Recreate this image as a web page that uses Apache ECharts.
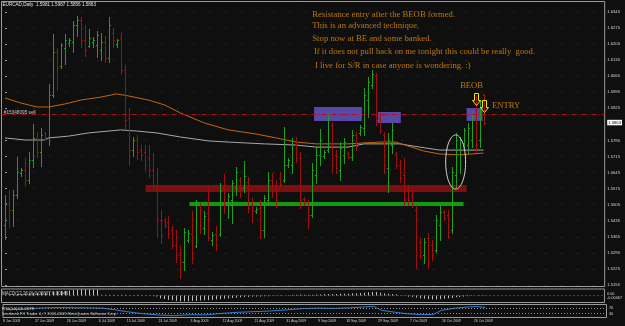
<!DOCTYPE html>
<html><head><meta charset="utf-8">
<script src="https://cdn.jsdelivr.net/npm/echarts/dist/echarts.min.js"></script>
<style>html,body{margin:0;padding:0;background:#0f0f0f}#c{width:625px;height:326px}</style>
</head><body><div id="c"></div>
<script>
// ---------- data ----------
const symbolName = 'EURCAD,Daily';
const open  = [1.5416,1.5512,1.5482,1.5547,1.5643,1.5656,1.5613,1.5700,1.5796,1.5735,1.5818,1.5800,1.5983,1.6171,1.6109,1.6188,1.6210,1.6214,1.6288,1.6310,1.6223,1.6197,1.6214,1.6201,1.6179,1.6214,1.6144,1.6253,1.6205,1.6231,1.6092,1.5883,1.5743,1.5787,1.5743,1.5735,1.5708,1.5656,1.5591,1.5438,1.5438,1.5429,1.5395,1.5329,1.5286,1.5255,1.5351,1.5377,1.5325,1.5499,1.5403,1.5469,1.5351,1.5377,1.5377,1.5578,1.5504,1.5525,1.5582,1.5613,1.5578,1.5604,1.5504,1.5477,1.5490,1.5395,1.5525,1.5613,1.5588,1.5621,1.5613,1.5678,1.5678,1.5765,1.5708,1.5530,1.5517,1.5460,1.5634,1.5722,1.5717,1.5743,1.5852,1.5722,1.5656,1.5722,1.5730,1.5713,1.5809,1.5818,1.5839,1.5961,1.6027,1.6066,1.5883,1.5809,1.5665,1.5765,1.5726,1.5678,1.5634,1.5569,1.5547,1.5482,1.5342,1.5286,1.5360,1.5329,1.5307,1.5416,1.5473,1.5460,1.5395,1.5634,1.5743,1.5774,1.5765,1.5787,1.5918,1.5787,1.5981];
const high  = [1.5547,1.5569,1.5569,1.5713,1.5665,1.5708,1.5735,1.5857,1.5822,1.5839,1.5822,1.6031,1.6249,1.6188,1.6210,1.6249,1.6231,1.6306,1.6328,1.6323,1.6288,1.6271,1.6236,1.6262,1.6253,1.6240,1.6323,1.6275,1.6227,1.6258,1.6114,1.5926,1.5800,1.5809,1.5765,1.5765,1.5765,1.5730,1.5665,1.5482,1.5447,1.5456,1.5412,1.5395,1.5325,1.5403,1.5395,1.5477,1.5525,1.5512,1.5477,1.5588,1.5386,1.5412,1.5599,1.5639,1.5556,1.5613,1.5669,1.5626,1.5695,1.5626,1.5538,1.5495,1.5525,1.5547,1.5647,1.5643,1.5613,1.5647,1.5844,1.5708,1.5796,1.5800,1.5735,1.5538,1.5525,1.5687,1.5756,1.5835,1.5743,1.5905,1.5865,1.5743,1.5778,1.5796,1.5735,1.5831,1.5822,1.5852,1.6014,1.6062,1.6092,1.6079,1.5905,1.5822,1.5818,1.5861,1.5735,1.5700,1.5708,1.5591,1.5569,1.5504,1.5360,1.5360,1.5381,1.5351,1.5460,1.5504,1.5482,1.5482,1.5669,1.5818,1.5800,1.5839,1.5861,1.5905,1.5983,1.5961,1.5987];
const low   = [1.5355,1.5408,1.5412,1.5534,1.5630,1.5591,1.5599,1.5669,1.5713,1.5674,1.5791,1.5765,1.5975,1.6005,1.6101,1.6118,1.6197,1.6171,1.6240,1.6192,1.6153,1.6192,1.6192,1.6149,1.6136,1.6127,1.6127,1.6192,1.6192,1.6075,1.5839,1.5678,1.5717,1.5704,1.5700,1.5656,1.5626,1.5578,1.5364,1.5338,1.5408,1.5360,1.5316,1.5255,1.5185,1.5220,1.5342,1.5251,1.5320,1.5381,1.5377,1.5351,1.5329,1.5307,1.5368,1.5469,1.5447,1.5425,1.5547,1.5538,1.5560,1.5473,1.5429,1.5469,1.5360,1.5364,1.5508,1.5538,1.5495,1.5582,1.5604,1.5669,1.5643,1.5691,1.5490,1.5504,1.5399,1.5451,1.5599,1.5678,1.5708,1.5735,1.5643,1.5643,1.5613,1.5687,1.5708,1.5700,1.5743,1.5809,1.5809,1.5887,1.6014,1.5852,1.5818,1.5643,1.5560,1.5730,1.5665,1.5604,1.5504,1.5504,1.5495,1.5229,1.5272,1.5251,1.5229,1.5264,1.5299,1.5351,1.5438,1.5360,1.5381,1.5582,1.5643,1.5756,1.5730,1.5756,1.5735,1.5756,1.5856];
const close = [1.5512,1.5482,1.5547,1.5647,1.5656,1.5613,1.5700,1.5796,1.5735,1.5809,1.5800,1.5983,1.6171,1.6101,1.6201,1.6223,1.6223,1.6288,1.6310,1.6223,1.6179,1.6231,1.6223,1.6245,1.6214,1.6144,1.6288,1.6223,1.6223,1.6092,1.5874,1.5743,1.5787,1.5735,1.5722,1.5678,1.5656,1.5591,1.5438,1.5373,1.5416,1.5381,1.5329,1.5286,1.5255,1.5386,1.5381,1.5272,1.5504,1.5416,1.5456,1.5360,1.5373,1.5329,1.5569,1.5504,1.5543,1.5599,1.5647,1.5569,1.5630,1.5490,1.5482,1.5486,1.5395,1.5534,1.5613,1.5569,1.5525,1.5595,1.5678,1.5700,1.5765,1.5708,1.5525,1.5512,1.5460,1.5656,1.5722,1.5787,1.5735,1.5883,1.5678,1.5665,1.5752,1.5778,1.5713,1.5809,1.5761,1.5844,1.5983,1.6040,1.6075,1.5874,1.5831,1.5678,1.5787,1.5831,1.5678,1.5621,1.5525,1.5525,1.5508,1.5286,1.5299,1.5342,1.5255,1.5286,1.5438,1.5473,1.5447,1.5386,1.5647,1.5787,1.5787,1.5831,1.5839,1.5896,1.5765,1.5957,1.5863];

// moving averages: [bar index, price]
const maOrange = [[0,1.5970],[4,1.5948],[8,1.5931],[11,1.5931],[15,1.5944],[19,1.5961],[24,1.5974],[28,1.5988],[31,1.5979],[36,1.5961],[40,1.5940],[44,1.5905],[50,1.5861],[56,1.5831],[63,1.5813],[68,1.5796],[73,1.5778],[78,1.5770],[86,1.5770],[90,1.5774],[94,1.5778],[98,1.5778],[101,1.5761],[105,1.5739],[109,1.5726],[114,1.5722],[120,1.5730]];
const maGrey = [[0,1.5796],[5,1.5787],[10,1.5787],[11,1.5796],[16,1.5804],[21,1.5818],[26,1.5826],[29,1.5831],[33,1.5826],[38,1.5818],[44,1.5800],[51,1.5783],[56,1.5778],[65,1.5770],[73,1.5765],[78,1.5756],[86,1.5756],[90,1.5770],[94,1.5770],[99,1.5770],[104,1.5756],[109,1.5743],[120,1.5743]];

// MACD histogram (one value per bar)
const macd = [0.002,0.002,0.003,0.004,0.004,0.005,0.006,0.007,0.007,0.008,0.008,0.009,0.010,0.011,0.012,0.013,0.014,
  0.015,0.016,0.017,0.017,0.017,0.016,0.016,
  0.002,0.002,0.002,0.002,0.001,0.002,0.002,0.001,0.001,0.002,0.001,
  0.001,-0.001,-0.002,-0.003,
  -0.008,-0.010,-0.012,-0.013,-0.015,-0.016,-0.016,-0.016,-0.015,-0.015,-0.014,-0.013,-0.013,-0.012,-0.011,-0.010,-0.009,-0.008,-0.007,-0.006,
  -0.005,-0.004,-0.004,-0.003,-0.003,-0.003,-0.002,-0.002,-0.001,-0.001,-0.001,0.000,
  0.001,0.002,0.002,0.003,0.002,0.002,0.002,0.003,0.003,0.004,0.004,0.004,0.004,0.005,0.005,0.005,
  0.006,0.006,0.007,0.008,0.009,0.010,0.010,
  0.008,0.006,0.005,0.004,0.003,0.001,-0.001,
  -0.003,-0.004,-0.006,-0.008,-0.009,-0.010,-0.011,-0.011,-0.010,-0.009,-0.008,-0.007,
  -0.005,-0.004,-0.003,-0.002,-0.001,0.000,0.001,0.001];
const macdLabel = 'MACD(12,26,9) 0.00607 0.00946';
const macdTicks = [0.01813, 0, -0.00067];

// RSI: [bar index, value]
const rsi = [[0,60],[4,64],[8,72],[12,76],[16,75],[20,74],[24,72],[27,60],[30,45],[34,30],[38,20],[42,14],[46,22],[50,20],[54,32],[58,40],[62,45],[66,50],[70,58],[74,68],[78,72],[82,70],[86,74],[90,82],[92,86],[94,55],[97,42],[100,30],[104,22],[107,24],[109,55],[112,70],[115,80],[118,84],[120,78]];
const rsiLabel = 'RSI(14) 65.2078';
const rsiLevels = [70, 30];

const dateLabels = ['8 Jun 2009','17 Jun 2009','26 Jun 2009','6 Jul 2009','15 Jul 2009','24 Jul 2009','3 Aug 2009','12 Aug 2009','21 Aug 2009','31 Aug 2009','9 Sep 2009','18 Sep 2009','29 Sep 2009','7 Oct 2009','16 Oct 2009','26 Oct 2009'];
const dateIdx = [0,8,16,24,31,39,47,55,63,71,79,86,94,102,110,118];
const priceTicks = [1.5155,1.5225,1.5295,1.5365,1.5435,1.5505,1.5575,1.5645,1.5715,1.5785,1.5925,1.5995,1.6065,1.6135,1.6205,1.6275,1.6345];

// annotations (data coordinates: bar index, price)
const orderLevel = 1.5895;
const orderText = '#15348095 sell';
const blueBoxes = [[77.5,1.5931,89.5,1.5870],[93.5,1.5909,99.25,1.5861],[115.75,1.5926,119.75,1.5870]];
const redBand = [35.25,1.5591,115.75,1.5560];
const greenBand = [46.25,1.5517,115,1.5499];
const noteTexts = ['Resistance entry after the BEOB formed.','This is an advanced technique.','Stop now at BE and some banked.','If it does not pull back on me tonight this could be really  good.','I live for S/R in case anyone is wondering. :)'];
const noteIdx = [76.93,76.93,76.93,77.33,77.58];
const notePrice = [1.63319,1.62839,1.62273,1.61719,1.61126];
const tagTexts = ['BEOB','ENTRY'];
const tagIdx = [114,122];
const tagPrice = [1.60223,1.59373];
const arrowIdx = [118,120];
const arrowPrice = [1.59395,1.59103];
const ellipseSpec = [113,1.5691,2.5,0.0118];

// ---------- chart ----------
const BULL = '#1f9f1f', BEAR = '#a01010';
const FONT = 'Liberation Sans';
const xMin = -0.875, xMax = 150.375;
const lastClose = close[close.length-1];
const chart = echarts.init(document.getElementById('c'), null, {renderer:'canvas'});

function renderOHLC(params, api){
  const i = api.value(0), o = api.value(1), h = api.value(2), l = api.value(3), c = api.value(4);
  const pt = api.coord([i,h]), pb = api.coord([i,l]), po = api.coord([i,o]), pc = api.coord([i,c]);
  const x = Math.round(pt[0]) + 0.5;
  const st = {stroke: c >= o ? BULL : BEAR, lineWidth: 1};
  const yo = Math.round(po[1]) + 0.5, yc = Math.round(pc[1]) + 0.5;
  return {type:'group', children:[
    {type:'line', shape:{x1:x, y1:Math.round(pt[1]), x2:x, y2:Math.round(pb[1])+1}, style:st},
    {type:'line', shape:{x1:x-1.5, y1:yo, x2:x, y2:yo}, style:st},
    {type:'line', shape:{x1:x, y1:yc, x2:x+1.5, y2:yc}, style:st}
  ]};
}
function renderHist(params, api){
  const i = api.value(0), v = api.value(1);
  const p0 = api.coord([i,0]), p1 = api.coord([i,v]);
  const x = Math.round(p0[0]) + 0.5;
  return {type:'line', shape:{x1:x, y1:p0[1], x2:x, y2:p1[1]}, style:{stroke:'#bdbdbd', lineWidth:1}};
}
function renderArrow(params, api){
  const p = api.coord([api.value(0), api.value(1)]);
  const x = Math.round(p[0]) + 0.5, y = Math.round(p[1]) + 0.5;
  return {type:'polygon', shape:{points:[[x,y],[x-4,y-5],[x-2,y-5],[x-2,y-12],[x+2,y-12],[x+2,y-5],[x+4,y-5]]},
    style:{fill:'rgba(0,0,0,0)', stroke:'#e8e800', lineWidth:1}};
}
function renderEllipse(params, api){
  const c = api.coord([api.value(0), api.value(1)]);
  const s = api.size([api.value(2), api.value(3)]);
  return {type:'ellipse', shape:{cx:c[0], cy:c[1], rx:s[0], ry:s[1]}, style:{fill:'none', stroke:'#d4d4d4', lineWidth:1}};
}
function area(r, color){ return [{coord:[r[0],r[1]], itemStyle:{color:color}}, {coord:[r[2],r[3]]}]; }

const labelMap = {};
dateIdx.forEach((d,k)=>{ labelMap[(d + xMin).toFixed(3)] = dateLabels[k]; });

const noteData = noteTexts.map((t,k)=>({name:t, value:[noteIdx[k], notePrice[k]],
  label:{color:'#e8900c', fontFamily:'Liberation Serif', fontSize:8.7}}));
tagTexts.forEach((t,k)=>noteData.push({name:t, value:[tagIdx[k], tagPrice[k]],
  label:{color:'#e8900c', fontFamily:'Liberation Serif', fontSize:8.6}}));
noteData.push({name:orderText, value:[-0.425, 1.59059], label:{color:'#e8e8e8', fontFamily:FONT, fontSize:4.7}});

const option = {
  backgroundColor:'#0f0f0f',
  animation:false,
  title:[
    {text: symbolName + '  ' + [open,high,low,close].map(a=>a[a.length-1].toFixed(4)).join(' '), left:2.5, top:2.5, padding:0,
      textStyle:{color:'#e0e0e0', fontSize:4.6, fontWeight:'normal', fontFamily:FONT}},
    {text: macdLabel, left:2, top:291, padding:0, textStyle:{color:'#c8c8c8', fontSize:4.5, fontWeight:'normal', fontFamily:FONT}},
    {text: rsiLabel, left:2, top:306.5, padding:0, textStyle:{color:'#c8c8c8', fontSize:4.4, fontWeight:'normal', fontFamily:FONT}},
    {text: 'Interbank FX Trader 4, \u00a9 2001-2009 MetaQuotes Software Corp.', left:2, top:311.8, padding:0,
      textStyle:{color:'#c8c8c8', fontSize:4, fontWeight:'normal', fontFamily:FONT}}
  ],
  grid:[
    {left:1.5, top:1.5, width:605, height:285, show:true, borderColor:'#9c9c9c', borderWidth:1},
    {left:1.5, top:289, width:605, height:13.5, show:true, borderColor:'#9c9c9c', borderWidth:1},
    {left:1.5, top:304.5, width:605, height:13, show:true, borderColor:'#9c9c9c', borderWidth:1}
  ],
  xAxis:[
    {gridIndex:0, type:'value', min:xMin, max:xMax, show:false},
    {gridIndex:1, type:'value', min:xMin, max:xMax, show:false},
    {gridIndex:2, type:'value', min:xMin, max:xMax, axisLine:{show:false}, axisTick:{show:false}, splitLine:{show:false},
      axisLabel:{customValues: dateIdx.map(d=>d + xMin), align:'left', margin:2, fontSize:3.5, color:'#cfcfcf', fontFamily:FONT,
        formatter:v=>labelMap[v.toFixed(3)] || ''}}
  ],
  yAxis:[
    {gridIndex:0, type:'value', position:'right', min:1.51482, max:1.63908, axisLine:{show:false},
      axisTick:{show:true, length:2, customValues:priceTicks, lineStyle:{color:'#9c9c9c'}},
      splitLine:{show:true, lineStyle:{color:'#404040', width:1, type:[1,15]}},
      axisLabel:{customValues: priceTicks.concat([lastClose]), margin:2.5, fontSize:4.2, color:'#d4d4d4', fontFamily:FONT,
        formatter:v=> Math.abs(v-lastClose)<1e-9 ? '{box|'+v.toFixed(4)+'}' : v.toFixed(4),
        rich:{box:{backgroundColor:'#ffffff', color:'#000000', fontSize:4.2, fontFamily:FONT, padding:[1,1,0.5,1]}}}},
    {gridIndex:1, type:'value', position:'right', min:-0.0195, max:0.01813, axisLine:{show:false}, axisTick:{show:false}, splitLine:{show:false},
      axisLabel:{customValues: macdTicks, margin:2.5, fontSize:3.8, color:'#d4d4d4', fontFamily:FONT,
        formatter:v=> v>0.01 ? '{t|'+v.toFixed(5)+'}' : (v===0 ? '{m|0.00}' : '{b|'+v.toFixed(5)+'}'),
        rich:{t:{fontSize:3.8, padding:[4,0,0,0]}, m:{fontSize:3.8, padding:[0,0,3,0]}, b:{fontSize:3.8, padding:[5,0,0,0]}}}},
    {gridIndex:2, type:'value', position:'right', min:0, max:100, axisLine:{show:false}, axisTick:{show:false}, splitLine:{show:false},
      axisLabel:{customValues: rsiLevels, margin:2.5, fontSize:3.8, color:'#d4d4d4', fontFamily:FONT}}
  ],
  series:[
    {name:'zones', type:'line', xAxisIndex:0, yAxisIndex:0, data:[], z:1, silent:true,
      markArea:{silent:true, data:[area(redBand,'#7a1010'), area(greenBand,'#119a11')].concat(blueBoxes.map(b=>area(b,'#5849a8')))}},
    {name:'order', type:'line', xAxisIndex:0, yAxisIndex:0, data:[], z:2, silent:true,
      markLine:{silent:true, symbol:'none', label:{show:false}, lineStyle:{color:'#a81414', width:1, type:[5,2,1,2]}, data:[{yAxis:orderLevel}]}},
    {name:'maGrey', type:'line', xAxisIndex:0, yAxisIndex:0, data:maGrey, showSymbol:false, symbol:'none', z:3,
      lineStyle:{color:'#a8a8a8', width:1}},
    {name:'maOrange', type:'line', xAxisIndex:0, yAxisIndex:0, data:maOrange, showSymbol:false, symbol:'none', z:3,
      lineStyle:{color:'#c8640c', width:1}},
    {name:'bars', type:'custom', xAxisIndex:0, yAxisIndex:0, renderItem:renderOHLC, z:4, silent:true,
      encode:{x:0, y:[1,2,3,4]}, data: open.map((o,i)=>[i, o, high[i], low[i], close[i]])},
    {name:'ellipse', type:'custom', xAxisIndex:0, yAxisIndex:0, renderItem:renderEllipse, z:5, silent:true, data:[ellipseSpec]},
    {name:'arrows', type:'custom', xAxisIndex:0, yAxisIndex:0, renderItem:renderArrow, z:6, silent:true,
      data: arrowIdx.map((x,k)=>[x, arrowPrice[k]])},
    {name:'notes', type:'scatter', xAxisIndex:0, yAxisIndex:0, symbolSize:1, itemStyle:{color:'rgba(0,0,0,0)'}, z:7, silent:true,
      label:{show:true, position:'right', distance:0, formatter:'{b}'}, data:noteData},
    {name:'macd', type:'custom', xAxisIndex:1, yAxisIndex:1, renderItem:renderHist, silent:true,
      data: macd.map((v,i)=>[i,v]),
      markLine:{silent:true, symbol:'none', label:{show:false}, lineStyle:{color:'#707070', width:1, type:[1,3]}, data:[{yAxis:0}]}},
    {name:'rsi', type:'line', xAxisIndex:2, yAxisIndex:2, data:rsi, showSymbol:false, symbol:'none',
      lineStyle:{color:'#2f7fd8', width:1},
      markLine:{silent:true, symbol:'none', label:{show:false}, lineStyle:{color:'#8c8c8c', width:1, type:[1,2]},
        data: rsiLevels.map(v=>({yAxis:v}))}}
  ]
};
chart.setOption(option);
</script>
</body></html>
